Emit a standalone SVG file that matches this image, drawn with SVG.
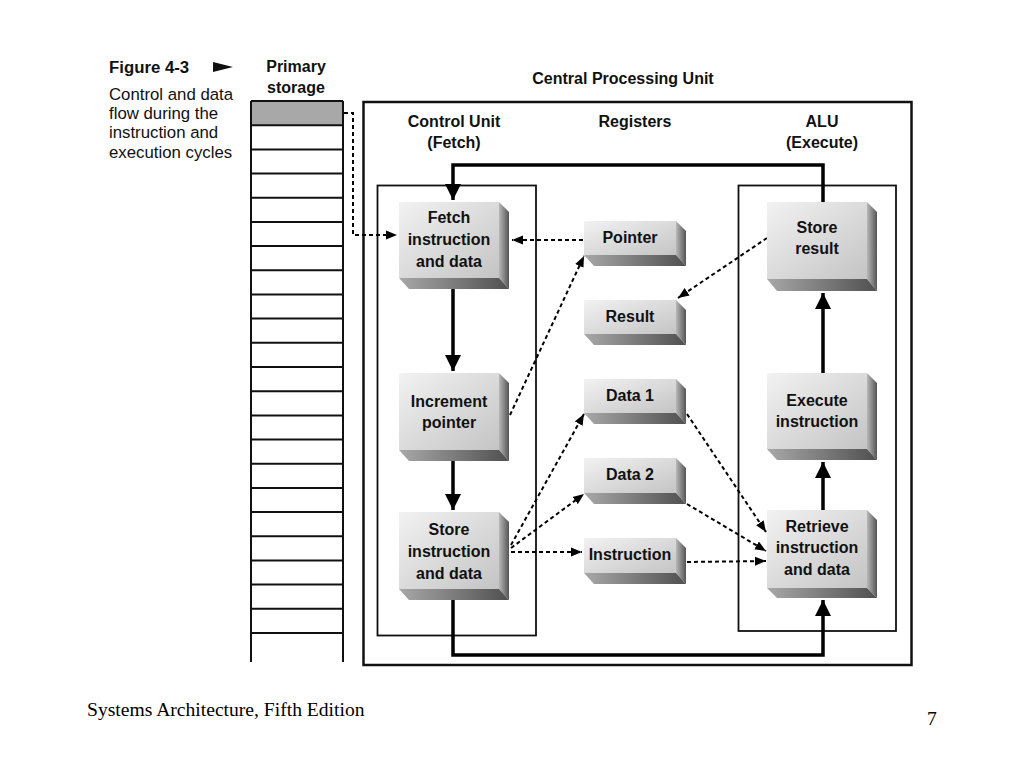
<svg xmlns="http://www.w3.org/2000/svg" width="1024" height="768" viewBox="0 0 1024 768">
<defs>
<linearGradient id="gFront" x1="0" y1="0" x2="1" y2="1"><stop offset="0" stop-color="#f2f2f2"/><stop offset="1" stop-color="#c4c4c4"/></linearGradient>
<linearGradient id="gSide" x1="0" y1="0" x2="1" y2="0"><stop offset="0" stop-color="#b8b8b8"/><stop offset="1" stop-color="#555"/></linearGradient>
<linearGradient id="gBottom" x1="0" y1="0" x2="1" y2="0"><stop offset="0" stop-color="#a8a8a8"/><stop offset="1" stop-color="#505050"/></linearGradient>
<marker id="big" markerUnits="userSpaceOnUse" markerWidth="16" markerHeight="18" viewBox="0 0 16 18" refX="16" refY="9" orient="auto"><path d="M0,1 L16,9 L0,17 Z" fill="#000"/></marker>
<marker id="sm" markerUnits="userSpaceOnUse" markerWidth="11" markerHeight="10" viewBox="0 0 11 10" refX="11" refY="5" orient="auto"><path d="M0,0.5 L11,5 L0,9.5 Z" fill="#000"/></marker>
</defs>
<style>
.t{font-family:"Liberation Sans",Arial,sans-serif;font-size:16.8px;fill:#111}
.b{font-family:"Liberation Sans",Arial,sans-serif;font-size:16px;font-weight:bold;fill:#111;text-anchor:middle}
.front{fill:url(#gFront)}
.side{fill:url(#gSide)}
.bot{fill:url(#gBottom)}
.frame{fill:none;stroke:#111}
.thick{fill:none;stroke:#000;stroke-width:3.5}
.dash{fill:none;stroke:#000;stroke-width:2;stroke-dasharray:4 3}
.cell{fill:none;stroke:#111;stroke-width:2}
.foot{font-family:"Liberation Serif","Times New Roman",serif;font-size:19.6px;fill:#000}
</style>
<rect width="1024" height="768" fill="#fff"/>

<g id="caption">
<text class="t" x="109" y="73" font-weight="bold" font-size="16.5">Figure 4-3</text>
<path d="M213,62 L233,67 L213,72 Z" fill="#111"/>
<text class="t" x="109" y="100">Control and data</text>
<text class="t" x="109" y="119">flow during the</text>
<text class="t" x="109" y="138">instruction and</text>
<text class="t" x="109" y="158">execution cycles</text>
</g>

<g id="primary-storage">
<text class="b" x="296" y="72">Primary</text>
<text class="b" x="296" y="93">storage</text>
<rect x="251" y="101" width="92" height="25" fill="#a8a8a8"/>
<path class="cell" d="M251,101 V662 M343,101 V662 M251,101 H343 M251,125.2 H343 M251,149.4 H343 M251,173.5 H343 M251,197.7 H343 M251,221.9 H343 M251,246.1 H343 M251,270.3 H343 M251,294.5 H343 M251,318.6 H343 M251,342.8 H343 M251,367 H343 M251,391.2 H343 M251,415.4 H343 M251,439.5 H343 M251,463.7 H343 M251,487.9 H343 M251,512.1 H343 M251,536.3 H343 M251,560.5 H343 M251,584.6 H343 M251,608.8 H343 M251,633 H343"/>
</g>

<g id="cpu">
<rect class="frame" x="363.5" y="102" width="548" height="563" stroke-width="2.5"/>
<text class="b" x="623" y="84">Central Processing Unit</text>
</g>

<g id="control-unit">
<rect class="frame" x="377.5" y="185.5" width="158.5" height="450" stroke-width="1.8"/>
<text class="b" x="454" y="127">Control Unit</text>
<text class="b" x="454" y="148">(Fetch)</text>
</g>

<g id="registers-label">
<text class="b" x="635" y="127">Registers</text>
</g>

<g id="alu">
<rect class="frame" x="738.5" y="185.5" width="157.5" height="445.5" stroke-width="1.8"/>
<text class="b" x="822" y="127">ALU</text>
<text class="b" x="822" y="148">(Execute)</text>
</g>

<g id="connectors">
<path class="thick" d="M823,202 V165 H453 V200" marker-end="url(#big)"/>
<path class="thick" d="M453,289 V371" marker-end="url(#big)"/>
<path class="thick" d="M453,461 V510" marker-end="url(#big)"/>
<path class="thick" d="M453,600 V655 H823 V600" marker-end="url(#big)"/>
<path class="thick" d="M823,510 V462" marker-end="url(#big)"/>
<path class="thick" d="M823,373 V293" marker-end="url(#big)"/>
<path class="dash" d="M344,113 H353 V235 H397" marker-end="url(#sm)"/>
<path class="dash" d="M583,240 H512" marker-end="url(#sm)"/>
<path class="dash" d="M510,415 L584,256" marker-end="url(#sm)"/>
<path class="dash" d="M767,238 L678,298" marker-end="url(#sm)"/>
<path class="dash" d="M511,545 L584,414" marker-end="url(#sm)"/>
<path class="dash" d="M511,548 L584,494" marker-end="url(#sm)"/>
<path class="dash" d="M511,552 H582" marker-end="url(#sm)"/>
<path class="dash" d="M687,414 L766,532" marker-end="url(#sm)"/>
<path class="dash" d="M687,504 L766,551" marker-end="url(#sm)"/>
<path class="dash" d="M687,562 L766,561" marker-end="url(#sm)"/>
</g>

<g id="fetch">
<rect class="front" x="399" y="202" width="100" height="76"/>
<path class="side" d="M499,202 L509,212 L509,289 L499,278 Z"/>
<path class="bot" d="M399,278 L499,278 L509,289 L409,289 Z"/>
<text class="b" x="449" y="223">Fetch</text>
<text class="b" x="449" y="245">instruction</text>
<text class="b" x="449" y="267">and data</text>
</g>

<g id="increment">
<rect class="front" x="399" y="373" width="100" height="77"/>
<path class="side" d="M499,373 L509,383 L509,461 L499,450 Z"/>
<path class="bot" d="M399,450 L499,450 L509,461 L409,461 Z"/>
<text class="b" x="449" y="407">Increment</text>
<text class="b" x="449" y="428">pointer</text>
</g>

<g id="store-instr">
<rect class="front" x="399" y="512" width="100" height="77"/>
<path class="side" d="M499,512 L509,522 L509,600 L499,589 Z"/>
<path class="bot" d="M399,589 L499,589 L509,600 L409,600 Z"/>
<text class="b" x="449" y="535">Store</text>
<text class="b" x="449" y="557">instruction</text>
<text class="b" x="449" y="579">and data</text>
</g>

<g id="pointer">
<rect class="front" x="584" y="221" width="92" height="34"/>
<path class="side" d="M676,221 L686,231 L686,266 L676,255 Z"/>
<path class="bot" d="M584,255 L676,255 L686,266 L594,266 Z"/>
<text class="b" x="630" y="243">Pointer</text>
</g>

<g id="result">
<rect class="front" x="584" y="300" width="92" height="34"/>
<path class="side" d="M676,300 L686,310 L686,345 L676,334 Z"/>
<path class="bot" d="M584,334 L676,334 L686,345 L594,345 Z"/>
<text class="b" x="630" y="322">Result</text>
</g>

<g id="data1">
<rect class="front" x="584" y="379" width="92" height="34"/>
<path class="side" d="M676,379 L686,389 L686,424 L676,413 Z"/>
<path class="bot" d="M584,413 L676,413 L686,424 L594,424 Z"/>
<text class="b" x="630" y="401">Data 1</text>
</g>

<g id="data2">
<rect class="front" x="584" y="458" width="92" height="35"/>
<path class="side" d="M676,458 L686,468 L686,504 L676,493 Z"/>
<path class="bot" d="M584,493 L676,493 L686,504 L594,504 Z"/>
<text class="b" x="630" y="480">Data 2</text>
</g>

<g id="instruction">
<rect class="front" x="584" y="538" width="92" height="35"/>
<path class="side" d="M676,538 L686,548 L686,584 L676,573 Z"/>
<path class="bot" d="M584,573 L676,573 L686,584 L594,584 Z"/>
<text class="b" x="630" y="560">Instruction</text>
</g>

<g id="store-result">
<rect class="front" x="767" y="202" width="100" height="77"/>
<path class="side" d="M867,202 L877,212 L877,291 L867,279 Z"/>
<path class="bot" d="M767,279 L867,279 L877,291 L777,291 Z"/>
<text class="b" x="817" y="233">Store</text>
<text class="b" x="817" y="254">result</text>
</g>

<g id="execute">
<rect class="front" x="767" y="373" width="100" height="76"/>
<path class="side" d="M867,373 L877,383 L877,460 L867,449 Z"/>
<path class="bot" d="M767,449 L867,449 L877,460 L777,460 Z"/>
<text class="b" x="817" y="406">Execute</text>
<text class="b" x="817" y="427">instruction</text>
</g>

<g id="retrieve">
<rect class="front" x="767" y="510" width="100" height="78"/>
<path class="side" d="M867,510 L877,520 L877,598 L867,588 Z"/>
<path class="bot" d="M767,588 L867,588 L877,598 L777,598 Z"/>
<text class="b" x="817" y="532">Retrieve</text>
<text class="b" x="817" y="553">instruction</text>
<text class="b" x="817" y="575">and data</text>
</g>

<g id="footer">
<text class="foot" x="87" y="716">Systems Architecture, Fifth Edition</text>
<text class="foot" x="927" y="725">7</text>
</g>
</svg>
